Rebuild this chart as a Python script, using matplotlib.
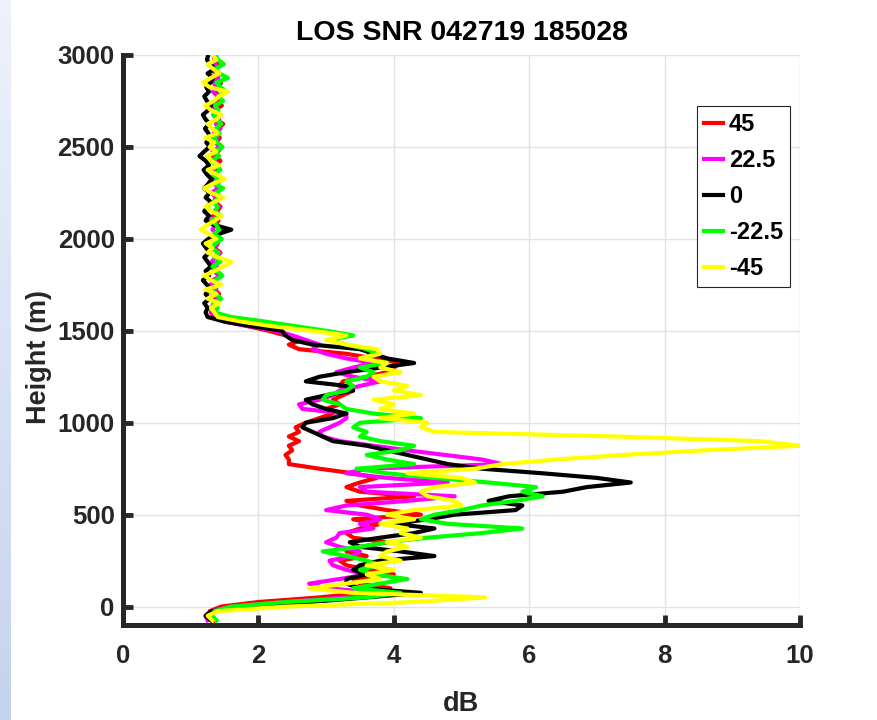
import numpy as np
import matplotlib
matplotlib.use("Agg")
import matplotlib.pyplot as plt

# range gates (m) and SNR profiles (dB) for each beam angle
heights = np.arange(-75, 3001, 25)

snr_p45 = [
    1.35, 1.30, 1.28, 1.45, 2.0, 2.9, 3.6, 3.95,
    3.5, 3.4, 4.0, 3.6, 3.3, 3.2, 3.6, 3.3,
    3.5, 3.9, 3.4, 3.3, 3.5, 3.8, 3.4, 4.4,
    3.9, 3.5, 3.3, 4.3, 3.5, 3.3, 3.5, 3.75,
    3.4, 2.9, 2.45, 2.45, 2.4, 2.5, 2.45, 2.6,
    2.45, 2.6, 2.55, 2.7, 2.9, 3.1, 3.0, 3.2,
    3.1, 3.25, 3.4, 3.2, 3.25, 3.6, 3.9, 4.0,
    4.1, 3.7, 3.3, 2.6, 2.45, 2.65, 2.4, 2.15,
    1.85, 1.55, 1.35, 1.30,
    1.32, 1.38, 1.30, 1.42, 1.35, 1.40, 1.33, 1.45,
    1.38, 1.30, 1.42, 1.36, 1.44, 1.35, 1.40, 1.32,
    1.38, 1.46, 1.37, 1.41, 1.33, 1.39, 1.44, 1.36,
    1.40, 1.34, 1.43, 1.38, 1.47, 1.35, 1.41, 1.37,
    1.44, 1.33, 1.40, 1.46, 1.38, 1.43, 1.35, 1.41,
    1.48, 1.37, 1.42, 1.34, 1.46, 1.39, 1.43, 1.36,
    1.40, 1.45, 1.37, 1.42, 1.35, 1.40, 1.38, 1.36,
]

snr_p22 = [
    1.25, 1.22, 1.30, 1.6, 2.4, 3.3, 3.8, 3.0,
    2.75, 3.2, 3.6, 3.3, 3.1, 3.05, 3.4, 3.5,
    3.2, 3.0, 3.15, 3.2, 3.7, 3.5, 3.8, 3.6,
    3.0, 3.3, 4.2, 4.9, 3.6, 3.5, 4.8, 3.9,
    3.3, 3.6, 5.6, 5.3, 4.75, 4.2, 3.7, 3.2,
    2.95, 2.9, 3.05, 3.2, 3.3, 3.3, 2.65, 2.6,
    2.9, 3.1, 3.2, 3.5, 3.8, 3.4, 3.15, 3.4,
    3.7, 3.3, 3.0, 2.8, 2.9, 2.7, 2.5, 2.25,
    1.85, 1.5, 1.35, 1.32,
    1.30, 1.35, 1.40, 1.32, 1.38, 1.29, 1.36, 1.42,
    1.34, 1.39, 1.31, 1.37, 1.43, 1.33, 1.38, 1.35,
    1.41, 1.32, 1.36, 1.30, 1.39, 1.35, 1.42, 1.34,
    1.37, 1.31, 1.40, 1.36, 1.33, 1.39, 1.30, 1.41,
    1.35, 1.38, 1.32, 1.43, 1.36, 1.40, 1.34, 1.44,
    1.37, 1.42, 1.35, 1.39, 1.31, 1.36, 1.40, 1.33,
    1.38, 1.34, 1.41, 1.36, 1.32, 1.37, 1.35, 1.33,
]

snr_0 = [
    1.30, 1.22, 1.30, 1.9, 2.75, 3.6, 4.4, 3.5,
    3.3, 3.3, 3.6, 3.4, 3.5, 3.8, 4.6, 4.1,
    3.5, 3.35, 3.8, 4.3, 4.6, 4.0, 4.5, 4.9,
    5.8, 5.9, 5.4, 5.7, 6.5, 6.85, 7.5, 7.0,
    6.2, 5.3, 4.8, 4.5, 4.2, 3.9, 3.6, 3.1,
    2.95, 2.8, 2.65, 2.7, 3.1, 3.3, 3.0, 2.8,
    2.7, 3.0, 3.4, 3.3, 2.7, 2.9, 3.3, 3.8,
    4.3, 3.9, 3.7, 3.5, 2.8, 2.5, 2.4, 2.35,
    1.9, 1.5, 1.25, 1.22,
    1.25, 1.20, 1.28, 1.22, 1.30, 1.24, 1.18, 1.27,
    1.22, 1.30, 1.25, 1.20, 1.28, 1.23, 1.18, 1.26,
    1.40, 1.60, 1.35, 1.22, 1.27, 1.20, 1.25, 1.30,
    1.22, 1.28, 1.20, 1.26, 1.31, 1.24, 1.19, 1.27,
    1.22, 1.13, 1.20, 1.28, 1.23, 1.30, 1.26, 1.21,
    1.28, 1.22, 1.18, 1.26, 1.30, 1.24, 1.20, 1.27,
    1.23, 1.29, 1.33, 1.25, 1.36, 1.28, 1.24, 1.26,
]

snr_m22 = [
    1.38, 1.32, 1.35, 1.6, 2.4, 3.6, 4.1, 3.4,
    3.8, 4.2, 3.7, 3.5, 3.8, 3.6, 3.3, 2.95,
    3.5, 3.9, 4.5, 5.3, 5.9, 4.8, 4.4, 4.6,
    5.0, 5.3, 5.8, 6.2, 5.9, 6.1, 5.4, 4.6,
    3.9, 3.45, 4.3, 3.9, 3.6, 4.1, 4.3, 3.8,
    3.5, 3.6, 3.4, 3.5, 4.4, 3.7, 3.3, 3.2,
    2.95, 3.0, 3.3, 3.4, 3.3, 3.6, 3.7, 3.5,
    3.9, 3.5, 3.75, 3.6, 3.3, 3.05, 3.4, 3.0,
    2.55, 2.1, 1.6, 1.35,
    1.40, 1.33, 1.45, 1.38, 1.30, 1.42, 1.36, 1.47,
    1.39, 1.32, 1.44, 1.35, 1.41, 1.30, 1.37, 1.46,
    1.34, 1.42, 1.38, 1.31, 1.45, 1.36, 1.40, 1.33,
    1.43, 1.37, 1.48, 1.35, 1.41, 1.33, 1.44, 1.38,
    1.30, 1.42, 1.36, 1.47, 1.39, 1.34, 1.43, 1.37,
    1.45, 1.38, 1.33, 1.41, 1.36, 1.48, 1.40, 1.52,
    1.44, 1.38, 1.55, 1.42, 1.36, 1.49, 1.40, 1.37,
]

snr_m45 = [
    1.32, 1.25, 1.40, 2.4, 4.3, 5.35, 3.4, 2.75,
    3.3, 3.8, 3.6, 4.0, 3.6, 4.1, 3.8, 3.9,
    4.2, 3.9, 4.4, 4.1, 4.2, 3.8, 4.3, 3.9,
    4.3, 5.0, 4.9, 4.5, 4.4, 4.6, 5.2, 5.0,
    4.2, 5.2, 5.6, 6.4, 7.4, 8.6, 10.0, 9.4,
    7.3, 4.6, 4.4, 4.5, 3.8, 4.3, 3.8, 4.0,
    3.7, 4.4, 4.0, 4.2, 3.8, 3.7, 4.1, 3.8,
    3.9, 3.5, 3.8, 3.75, 3.3, 3.0, 3.3, 2.8,
    2.2, 1.75, 1.4, 1.35,
    1.30, 1.42, 1.25, 1.38, 1.22, 1.45, 1.30, 1.20,
    1.35, 1.48, 1.60, 1.40, 1.25, 1.32, 1.22, 1.38,
    1.28, 1.15, 1.24, 1.36, 1.45, 1.30, 1.22, 1.35,
    1.48, 1.30, 1.20, 1.33, 1.50, 1.38, 1.25, 1.42,
    1.30, 1.24, 1.38, 1.28, 1.35, 1.22, 1.40, 1.32,
    1.25, 1.38, 1.45, 1.30, 1.22, 1.34, 1.42, 1.55,
    1.28, 1.18, 1.30, 1.42, 1.33, 1.25, 1.38, 1.32,
]

labels = ['45', '22.5', '0', '-22.5', '-45']
colors = ['#ff0000', '#ff00ff', '#000000', '#00ff00', '#ffff00']
profiles = [snr_p45, snr_p22, snr_0, snr_m22, snr_m45]

plt.rcParams['font.family'] = ['Liberation Sans', 'DejaVu Sans']
plt.rcParams['font.weight'] = 'bold'

fig = plt.figure(figsize=(8.77, 7.2), dpi=100)

# bluish slide edge on the left
strip = fig.add_axes([0, 0, 11 / 877, 1])
grad = np.linspace(0, 1, 256)[:, None, None]
top = np.array([238, 242, 250]) / 255
bottom = np.array([196, 211, 238]) / 255
strip.imshow(top + (bottom - top) * grad, aspect='auto')
strip.axis('off')

ax = fig.add_axes([123 / 877, 1 - 625 / 720, 677 / 877, 570 / 720])

for prof, lab, col in zip(profiles, labels, colors):
    ax.plot(prof, heights, color=col, linewidth=3, label=lab)

ax.set_xlim(0, 10)
ax.set_ylim(-100, 3000)
ax.set_xticks([0, 2, 4, 6, 8, 10])
ax.set_yticks([0, 500, 1000, 1500, 2000, 2500, 3000])

ax.grid(True, color='#e3e3e3', linewidth=1.0)
ax.set_axisbelow(True)

for side in ['top', 'right']:
    ax.spines[side].set_visible(False)
for side in ['left', 'bottom']:
    ax.spines[side].set_linewidth(3.6)
    ax.spines[side].set_color('#262626')
    ax.spines[side].set_capstyle('projecting')

ax.tick_params(direction='in', length=7, width=3.5, color='#262626',
               labelsize=18.5, labelcolor='#262626')
ax.tick_params(axis='x', pad=14)
ax.tick_params(axis='y', pad=6)

ax.set_title('LOS SNR 042719 185028', fontsize=20.5, fontweight='bold', pad=11)
ax.set_xlabel('dB', fontsize=19.5, fontweight='bold', color='#262626', labelpad=16)
ax.set_ylabel('Height (m)', fontsize=19.5, fontweight='bold', color='#262626')
ax.yaxis.set_label_coords(-0.105, 0.47)

leg = ax.legend(loc='upper right', bbox_to_anchor=(0.985, 0.9105), borderaxespad=0,
                fancybox=False, framealpha=1, edgecolor='#262626',
                handlelength=0.8, handletextpad=0.25, labelspacing=0.55,
                borderpad=0.3, prop={'size': 17, 'weight': 'bold'})
leg.get_frame().set_linewidth(0.8)

fig.savefig('out.png', dpi=100)
